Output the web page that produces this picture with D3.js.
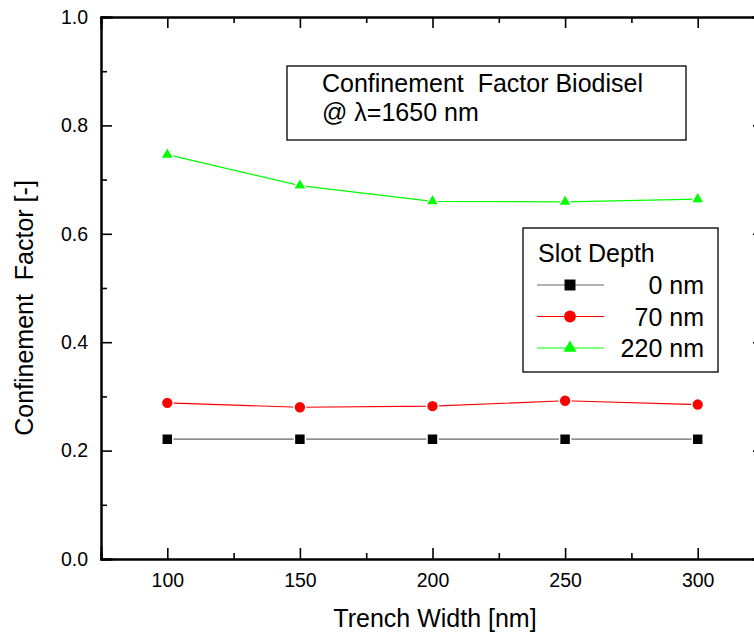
<!DOCTYPE html>
<meta charset="utf-8">
<script src="https://d3js.org/d3.v7.min.js"></script>
<style>
body { margin: 0; background: #fff; }
text { font-family: "Liberation Sans", Arial, sans-serif; fill: #000; }
.axis path { stroke: #000; stroke-width: 2px; }
.axis line { stroke: #000; stroke-width: 1.6px; }
.axis text { font-size: 19.5px; }
</style>
<body>
<div id="chart"></div>
<script>

// ---- data ----
const trenchWidths = [100, 150, 200, 250, 300];
const depth0 = [0.221, 0.221, 0.221, 0.221, 0.221];
const depth70 = [0.288, 0.280, 0.282, 0.292, 0.285];
const depth220 = [0.746, 0.689, 0.660, 0.659, 0.664];
const seriesNames = ["0 nm", "70 nm", "220 nm"];
const seriesColors = ["#000000", "#ff0000", "#00ff00"];
const seriesShapes = [d3.symbolSquare, d3.symbolCircle, d3.symbolTriangle];
const xTicks = [100, 150, 200, 250, 300];
const yTicks = [0.0, 0.2, 0.4, 0.6, 0.8, 1.0];

const series = [depth0, depth70, depth220].map((vals, i) => ({
  name: seriesNames[i],
  color: seriesColors[i],
  shape: seriesShapes[i],
  points: vals.map((v, j) => ({x: trenchWidths[j], y: v}))
}));

// ---- layout ----
const outerWidth = 754;
const outerHeight = 635;
const margin = {top: 17, left: 101};
const innerWidth = 663;   // right frame edge sits just past the window
const innerHeight = 542;

const svg = d3.select("#chart").append("svg")
  .attr("width", outerWidth)
  .attr("height", outerHeight);

const g = svg.append("g")
  .attr("transform", "translate(" + margin.left + "," + margin.top + ")");

const x = d3.scaleLinear().domain([75, 325]).range([0, innerWidth]);
const y = d3.scaleLinear().domain([0, 1]).range([innerHeight, 0]);

const xMinor = d3.range(75, 326, 25).filter(v => v % 50 !== 0);
const yMinor = d3.range(0.1, 1, 0.2);

const major = 11, minor = 6;
const noLabels = sel => sel.selectAll("text").remove();

// minor ticks first
g.append("g").attr("class", "axis")
  .attr("transform", "translate(0," + innerHeight + ")")
  .call(d3.axisBottom(x).tickValues(xMinor).tickSize(-minor)).call(noLabels);
g.append("g").attr("class", "axis")
  .call(d3.axisTop(x).tickValues(xMinor).tickSize(-minor)).call(noLabels);
g.append("g").attr("class", "axis")
  .call(d3.axisLeft(y).tickValues(yMinor).tickSize(-minor)).call(noLabels);
g.append("g").attr("class", "axis")
  .attr("transform", "translate(" + innerWidth + ",0)")
  .call(d3.axisRight(y).tickValues(yMinor).tickSize(-minor)).call(noLabels);

// major ticks
g.append("g").attr("class", "axis")
  .attr("transform", "translate(0," + innerHeight + ")")
  .call(d3.axisBottom(x).tickValues(xTicks).tickSize(-major).tickPadding(14).tickFormat(d3.format("d")));
g.append("g").attr("class", "axis")
  .call(d3.axisTop(x).tickValues(xTicks).tickSize(-major)).call(noLabels);
g.append("g").attr("class", "axis")
  .call(d3.axisLeft(y).tickValues(yTicks).tickSize(-major).tickPadding(13).tickFormat(d3.format(".1f")));
g.append("g").attr("class", "axis")
  .attr("transform", "translate(" + innerWidth + ",0)")
  .call(d3.axisRight(y).tickValues(yTicks).tickSize(-major)).call(noLabels);

g.selectAll(".axis .domain").attr("stroke-linecap", "square");

// axis titles
svg.append("text")
  .attr("x", 435).attr("y", 627)
  .attr("text-anchor", "middle")
  .style("font-size", "25px")
  .text("Trench Width [nm]");

svg.append("text")
  .attr("transform", "translate(33,308) rotate(-90)")
  .attr("text-anchor", "middle")
  .style("font-size", "25px")
  .style("white-space", "pre")
  .text("Confinement  Factor [-]");

// lines and markers
const line = d3.line().x(d => x(d.x)).y(d => y(d.y));
const markerSize = shape => shape === d3.symbolTriangle ? 75 : shape === d3.symbolCircle ? 110 : 120;

series.forEach(s => {
  g.append("path")
    .datum(s.points)
    .attr("fill", "none")
    .attr("stroke", s.color)
    .attr("stroke-opacity", s.color === "#000000" ? 0.6 : 1)
    .attr("stroke-width", 1.2)
    .attr("d", line);

  g.selectAll(null)
    .data(s.points)
    .enter()
    .append("path")
    .attr("transform", d => "translate(" + x(d.x) + "," + y(d.y) + ")")
    .attr("d", d3.symbol().type(s.shape).size(markerSize(s.shape)))
    .attr("fill", s.color)
    .attr("stroke", "#fff")
    .attr("stroke-width", 1.5);
});

// annotation box
svg.append("rect")
  .attr("x", 287).attr("y", 66)
  .attr("width", 399).attr("height", 74)
  .attr("fill", "#fff").attr("stroke", "#000").attr("stroke-width", 1.3);

svg.append("text")
  .attr("x", 322).attr("y", 92)
  .style("font-size", "25px")
  .style("white-space", "pre")
  .text("Confinement  Factor Biodisel");

svg.append("text")
  .attr("x", 322).attr("y", 121)
  .style("font-size", "25px")
  .text("@ \u03bb=1650 nm");

// legend
const legend = svg.append("g");
legend.append("rect")
  .attr("x", 523).attr("y", 228)
  .attr("width", 195).attr("height", 144)
  .attr("fill", "#fff").attr("stroke", "#000").attr("stroke-width", 1.3);

legend.append("text")
  .attr("x", 538).attr("y", 262)
  .style("font-size", "25px")
  .text("Slot Depth");

series.forEach((s, i) => {
  const ly = 285 + i * 31.5;
  legend.append("line")
    .attr("x1", 537).attr("x2", 604)
    .attr("y1", ly).attr("y2", ly)
    .attr("stroke", s.color)
    .attr("stroke-opacity", s.color === "#000000" ? 0.6 : 1)
    .attr("stroke-width", 1.2);
  legend.append("path")
    .attr("transform", "translate(570," + ly + ")")
    .attr("d", d3.symbol().type(s.shape).size(markerSize(s.shape)))
    .attr("fill", s.color);
  legend.append("text")
    .attr("x", 704).attr("y", ly + 9)
    .attr("text-anchor", "end")
    .style("font-size", "25px")
    .text(s.name);
});

</script>
</body>
